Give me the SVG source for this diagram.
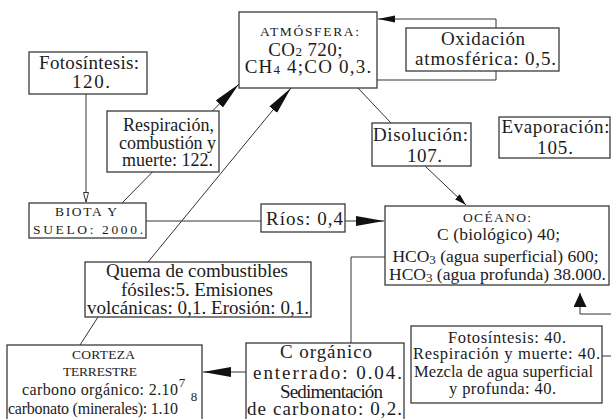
<svg xmlns="http://www.w3.org/2000/svg" width="611" height="419" viewBox="0 0 611 419">
<style>
text{font-family:"Liberation Serif","DejaVu Serif",serif;fill:#1c1c1c;text-anchor:middle}
.b{fill:#fff;stroke:#3a3a3a;stroke-width:1.3}
.c{fill:none;stroke:#333;stroke-width:1}
.f19{font-size:19px}
.f18{font-size:18px}
.f175{font-size:17.5px}
.f165{font-size:16.5px}
.f16{font-size:16px}
.sc{font-size:13.5px}
</style>
<defs>
<marker id="big" markerUnits="userSpaceOnUse" markerWidth="30" markerHeight="12" refX="28" refY="5" orient="auto"><path d="M0,0 L28,5 L0,10 Z" fill="#111"/></marker>
<marker id="mid" markerUnits="userSpaceOnUse" markerWidth="20" markerHeight="10" refX="17" refY="3.5" orient="auto"><path d="M0,0 L17,3.5 L0,7 Z" fill="#111"/></marker>
<marker id="sm" markerUnits="userSpaceOnUse" markerWidth="14" markerHeight="10" refX="12" refY="3.5" orient="auto"><path d="M0,0 L12,3.5 L0,7 Z" fill="#111"/></marker>
<marker id="fat" markerUnits="userSpaceOnUse" markerWidth="16" markerHeight="15" refX="14" refY="6.5" orient="auto"><path d="M0,0 L14,6.5 L0,13 Z" fill="#111"/></marker>
<marker id="open" markerUnits="userSpaceOnUse" markerWidth="12" markerHeight="8" refX="10" refY="3" orient="auto"><path d="M0.5,0.5 L10,3 L0.5,5.5 Z" fill="#fff" stroke="#333" stroke-width="1"/></marker>
</defs>
<g id="connectors">
<line class="c" x1="86" y1="94" x2="86" y2="202" marker-end="url(#open)"/>
<line class="c" x1="122" y1="203" x2="239" y2="84" marker-end="url(#big)"/>
<polyline class="c" points="80,345 98,317 148,262 291,88" marker-end="url(#big)"/>
<polyline class="c" points="358,88 391,123 425,166 466,205" marker-end="url(#sm)"/>
<path class="c" d="M377,80 H496 V19 H378" marker-end="url(#mid)"/>
<line class="c" x1="146" y1="221" x2="384" y2="221" marker-end="url(#big)"/>
<path class="c" d="M385,257 H351 V343"/>
<line class="c" x1="246" y1="372" x2="203" y2="372" marker-end="url(#big)"/>
<path class="c" d="M602,356 H616 V314 H580 V293" marker-end="url(#fat)"/>
</g>
<g id="atmosfera">
<rect class="b" x="239" y="12" width="138" height="76"/>
<text class="sc" x="309.5" y="36" textLength="99" lengthAdjust="spacing">ATMÓSFERA:</text>
<text class="f19" x="305.5" y="56" letter-spacing="0.4">CO<tspan font-size="13">2</tspan> 720;</text>
<text class="f19" x="308.5" y="73" letter-spacing="1.2">CH<tspan font-size="13" baseline-shift="-1">4</tspan> 4;CO 0,3.</text>
</g>
<g id="oxidacion">
<rect class="b" x="406" y="28" width="153" height="43"/>
<text class="f19" x="483" y="45" textLength="84" lengthAdjust="spacing">Oxidación</text>
<text class="f19" x="485.5" y="65" textLength="141" lengthAdjust="spacing">atmosférica: 0,5.</text>
</g>
<g id="fotosintesis">
<rect class="b" x="29" y="52" width="118" height="42"/>
<text class="f19" x="89" y="69" textLength="100" lengthAdjust="spacing">Fotosíntesis:</text>
<text class="f19" x="91" y="88" textLength="38" lengthAdjust="spacing">120.</text>
</g>
<g id="respiracion">
<rect class="b" x="107" y="111" width="112" height="61"/>
<text class="f18" x="168.5" y="131" textLength="91" lengthAdjust="spacing">Respiración,</text>
<text class="f18" x="167.5" y="149" textLength="97" lengthAdjust="spacing">combustión y</text>
<text class="f18" x="167.5" y="166" textLength="91" lengthAdjust="spacing">muerte: 122.</text>
</g>
<g id="biota">
<rect class="b" x="29" y="203" width="117" height="35"/>
<text class="sc" x="86" y="216" textLength="62" lengthAdjust="spacing">BIOTA Y</text>
<text class="sc" x="88" y="234" textLength="110" lengthAdjust="spacing">SUELO: 2000.</text>
</g>
<g id="rios">
<rect class="b" x="261" y="204" width="84" height="28"/>
<text class="f19" x="304.5" y="225" textLength="77" lengthAdjust="spacing">Ríos: 0,4</text>
</g>
<g id="disolucion">
<rect class="b" x="372" y="123" width="99" height="43"/>
<text class="f19" x="420.5" y="141" textLength="95" lengthAdjust="spacing">Disolución:</text>
<text class="f19" x="424.5" y="162" textLength="35" lengthAdjust="spacing">107.</text>
</g>
<g id="evaporacion">
<rect class="b" x="499" y="117" width="111" height="41"/>
<text class="f19" x="555.5" y="133" textLength="108" lengthAdjust="spacing">Evaporación:</text>
<text class="f19" x="555" y="154" textLength="36" lengthAdjust="spacing">105.</text>
</g>
<g id="oceano">
<rect class="b" x="385" y="206" width="224" height="79"/>
<text class="sc" x="497" y="222" textLength="68" lengthAdjust="spacing">OCÉANO:</text>
<text class="f175" x="498.5" y="240" textLength="123" lengthAdjust="spacing">C (biológico) 40;</text>
<text class="f175" x="495.5" y="262">HCO<tspan font-size="13" baseline-shift="-2">3</tspan> (agua superficial) 600;</text>
<text class="f175" x="497.5" y="280">HCO<tspan font-size="13" baseline-shift="-2">3</tspan> (agua profunda) 38.000.</text>
</g>
<g id="quema">
<rect class="b" x="85" y="262" width="226" height="55"/>
<text class="f19" x="197" y="277" textLength="182" lengthAdjust="spacing">Quema de combustibles</text>
<text class="f19" x="197" y="296" textLength="152" lengthAdjust="spacing">fósiles:5. Emisiones</text>
<text class="f19" x="198" y="314" textLength="222" lengthAdjust="spacing">volcánicas: 0,1. Erosión: 0,1.</text>
</g>
<g id="corteza">
<rect class="b" x="7" y="345" width="195" height="85"/>
<text class="sc" x="103.5" y="359" textLength="63" lengthAdjust="spacing">CORTEZA</text>
<text class="sc" x="100" y="376" textLength="74" lengthAdjust="spacing">TERRESTRE</text>
<text class="f16" x="100" y="395" textLength="156" lengthAdjust="spacing">carbono orgánico: 2.10</text>
<text x="182" y="387" font-size="13">7</text>
<text class="f16" x="93" y="414" textLength="170" lengthAdjust="spacing">carbonato (minerales): 1.10</text>
<text x="194" y="401" font-size="13">8</text>
</g>
<g id="c-organico">
<rect class="b" x="246" y="343" width="158" height="87"/>
<text class="f19" x="326" y="358" textLength="92" lengthAdjust="spacing">C orgánico</text>
<text class="f19" x="327.5" y="379" textLength="149" lengthAdjust="spacing">enterrado: 0.04.</text>
<text class="f19" x="331.5" y="398" textLength="103" lengthAdjust="spacing">Sedimentación</text>
<text class="f19" x="324.5" y="415" textLength="155" lengthAdjust="spacing">de carbonato: 0,2.</text>
</g>
<g id="fotosintesis-oceano">
<rect class="b" x="411" y="326" width="191" height="77"/>
<text class="f165" x="507" y="343" textLength="118" lengthAdjust="spacing">Fotosíntesis: 40.</text>
<text class="f165" x="506.5" y="359" textLength="187" lengthAdjust="spacing">Respiración y muerte: 40.</text>
<text class="f165" x="503.5" y="377" textLength="179" lengthAdjust="spacing">Mezcla de agua superficial</text>
<text class="f165" x="502.5" y="394" textLength="107" lengthAdjust="spacing">y profunda: 40.</text>
</g>
</svg>
